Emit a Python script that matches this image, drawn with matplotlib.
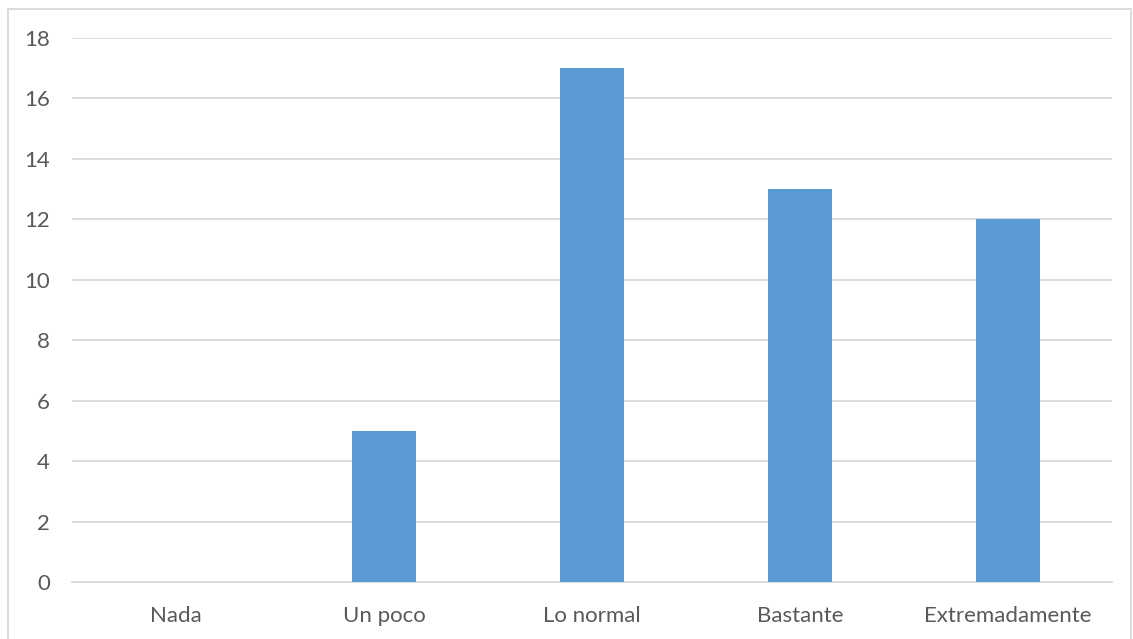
import matplotlib.pyplot as plt
from matplotlib.patches import Rectangle

categories = ["Nada", "Un poco", "Lo normal", "Bastante", "Extremadamente"]
values = [0, 5, 17, 13, 12]
yticks = [0, 2, 4, 6, 8, 10, 12, 14, 16, 18]

plt.rcParams["font.family"] = ["Lato", "DejaVu Sans"]

fig = plt.figure(figsize=(11.33, 6.39), dpi=100)
ax = fig.add_axes([72 / 1133, 57 / 639, 1040 / 1133, 544 / 639])

x = range(len(categories))
ax.bar(x, values, width=0.31, color="#5B9BD5", zorder=3)

ax.set_xlim(-0.5, len(categories) - 0.5)
ax.set_ylim(0, 18)
ax.set_yticks(yticks)
ax.set_xticks(list(x))
ax.set_xticklabels(categories)
ax.grid(axis="y", color="#D9D9D9", linewidth=1.3, zorder=0)
ax.tick_params(axis="both", length=0, labelsize=16, colors="#595959")
ax.tick_params(axis="x", pad=17)
ax.tick_params(axis="y", pad=16)
for s in ["top", "right", "left"]:
    ax.spines[s].set_visible(False)
ax.spines["bottom"].set_color("#D9D9D9")
ax.spines["bottom"].set_linewidth(1.3)

fig.patches.append(Rectangle((8 / 1133, -0.01), 1123 / 1133, 1 - 9 / 639 + 0.01,
                             transform=fig.transFigure, fill=False,
                             edgecolor="#D9D9D9", linewidth=1.3))

fig.savefig("out.png", dpi=100)
